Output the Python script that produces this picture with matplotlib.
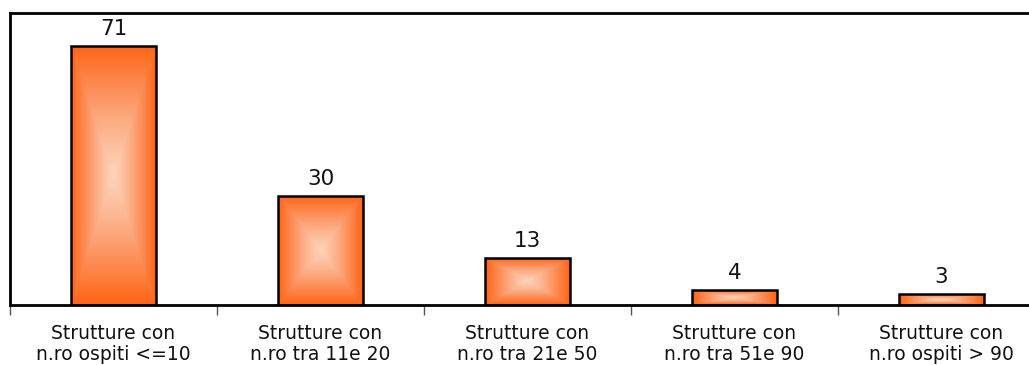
import numpy as np
import matplotlib
matplotlib.use("Agg")
import matplotlib.pyplot as plt
from matplotlib.colors import LinearSegmentedColormap

categories = [
    "Strutture con\nn.ro ospiti <=10",
    "Strutture con\nn.ro tra 11e 20",
    "Strutture con\nn.ro tra 21e 50",
    "Strutture con\nn.ro tra 51e 90",
    "Strutture con\nn.ro ospiti > 90",
]
values = [71, 30, 13, 4, 3]

plt.rcParams["font.family"] = ["DejaVu Sans"]

fig = plt.figure(figsize=(10.29, 3.65), dpi=100)
ax = fig.add_axes([10 / 1029, 60 / 365, 1035 / 1029, 292 / 365])

x = np.arange(len(values))
bar_w = 0.41
bars = ax.bar(x, values, width=bar_w, facecolor="none", edgecolor="black",
              linewidth=1.8, zorder=3)

# rectangular "from centre" gradient: light peach in the middle, orange at the edges
cmap = LinearSegmentedColormap.from_list("peach", ["#fdd3b8", "#fc9a6a", "#ff6414"])
n = 200
u = np.linspace(-1, 1, n)
U, V = np.meshgrid(u, u)
grad = np.maximum(np.abs(U), np.abs(V)) ** 1.2

for b in bars:
    x0, y0 = b.get_x(), b.get_y()
    w, h = b.get_width(), b.get_height()
    im = ax.imshow(grad, cmap=cmap, vmin=0, vmax=1, extent=(x0, x0 + w, y0, y0 + h),
                   aspect="auto", interpolation="bilinear", zorder=2)
    im.set_clip_path(b)

for xi, v in zip(x, values):
    ax.annotate(str(v), (xi, v), xytext=(0, 5), textcoords="offset points",
                ha="center", va="bottom", fontsize=15.5, color="#111111")

ax.set_xlim(-0.5, len(values) - 0.5)
ax.set_ylim(0, 80)
ax.set_yticks([])

ax.set_xticks(np.arange(len(values) + 1) - 0.5)
ax.set_xticklabels([])
ax.set_xticks(x, minor=True)
ax.set_xticklabels(categories, minor=True, fontsize=13.5, linespacing=1.1,
                   color="#111111")
ax.tick_params(axis="x", which="major", length=7, width=1, color="#555555", direction="out")
ax.tick_params(axis="x", which="minor", length=0, pad=14)

for s in ax.spines.values():
    s.set_linewidth(2)
    s.set_color("black")

fig.savefig("out.png", dpi=100)
